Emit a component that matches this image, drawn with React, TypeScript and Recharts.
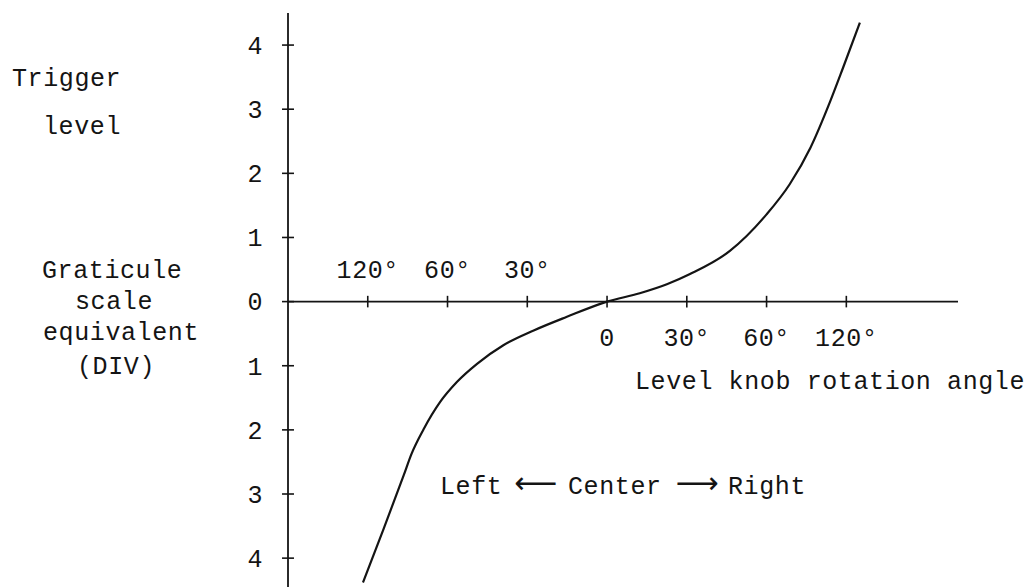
import { LineChart, Line, XAxis, YAxis, ReferenceLine } from "recharts"

// knob position in axis units (each tick = 1 unit), trigger level in DIV
const curveX = [-3.06, -2.8, -2.55, -2.45, -2.3, -2.09, -1.88, -1.63, -1.3, -0.92, -0.51, 0.0, 0.41, 0.75, 1.04, 1.54, 2.0, 2.29, 2.55, 2.8, 2.96, 3.17]
const curveY = [-4.38, -3.54, -2.71, -2.37, -1.99, -1.56, -1.25, -0.97, -0.68, -0.45, -0.24, 0.0, 0.13, 0.27, 0.43, 0.79, 1.36, 1.83, 2.4, 3.13, 3.65, 4.35]

const levelTicks = [4, 3, 2, 1, 0, -1, -2, -3, -4]
const levelLabels = ["4", "3", "2", "1", "0", "1", "2", "3", "4"]

const angleTicks = [-3, -2, -1, 0, 1, 2, 3]
const angleLabels = ["120°", "60°", "30°", "0", "30°", "60°", "120°"]

const ink = "#141414"
const font = "'Liberation Mono', 'DejaVu Sans Mono', monospace"
const txt = { fill: ink, fontFamily: font, fontSize: 25, letterSpacing: 0.6 }

export default function App() {
  const data = curveX.map((x, i) => ({ x, y: curveY[i] }))
  return (
    <div style={{ position: "absolute", left: 0, top: 0, background: "#fff" }}>
      <LineChart width={1034} height={587} data={data} margin={{ top: 13, right: 76, bottom: 0, left: 288 }}>
        <XAxis type="number" dataKey="x" domain={[-4, 4.4]} hide allowDataOverflow />
        <YAxis type="number" domain={[-4.45, 4.5]} hide allowDataOverflow />

        <ReferenceLine x={-4} stroke={ink} strokeWidth={1.8} ifOverflow="visible" />
        <ReferenceLine y={0} stroke={ink} strokeWidth={1.8} ifOverflow="visible" />

        {levelTicks.map((v, i) => (
          <ReferenceLine
            key={"yt" + i}
            segment={[{ x: -4.075, y: v }, { x: -3.925, y: v }]}
            stroke={ink}
            strokeWidth={1.6}
            ifOverflow="visible"
            label={{ value: levelLabels[i], position: "left", offset: 19, ...txt }}
          />
        ))}

        {angleTicks.map((v, i) => (
          <ReferenceLine
            key={"xt" + i}
            segment={[{ x: v, y: -0.09 }, { x: v, y: 0.09 }]}
            stroke={ink}
            strokeWidth={1.6}
            ifOverflow="visible"
            label={{ value: angleLabels[i], position: v < 0 ? "top" : "bottom", offset: v < 0 ? 18 : 21, ...txt }}
          />
        ))}

        <Line type="monotone" dataKey="y" stroke={ink} strokeWidth={2.2} dot={false} isAnimationActive={false} />

        <g fill={ink} fontFamily={font} fontSize={25} letterSpacing={0.6}>
          <text x={12} y={86}>Trigger</text>
          <text x={43} y={134}>level</text>
          <text x={42} y={278}>Graticule</text>
          <text x={75} y={309}>scale</text>
          <text x={43} y={340}>equivalent</text>
          <text x={77} y={374}>(DIV)</text>
          <text x={635} y={389}>Level knob rotation angle</text>
          <text x={440} y={494}>Left</text>
          <text x={536} y={493} textAnchor="middle" fontFamily="'DejaVu Sans'" fontSize={30} letterSpacing={0}>⟵</text>
          <text x={568} y={494}>Center</text>
          <text x={697} y={493} textAnchor="middle" fontFamily="'DejaVu Sans'" fontSize={30} letterSpacing={0}>⟶</text>
          <text x={728} y={494}>Right</text>
        </g>
      </LineChart>
    </div>
  )
}
